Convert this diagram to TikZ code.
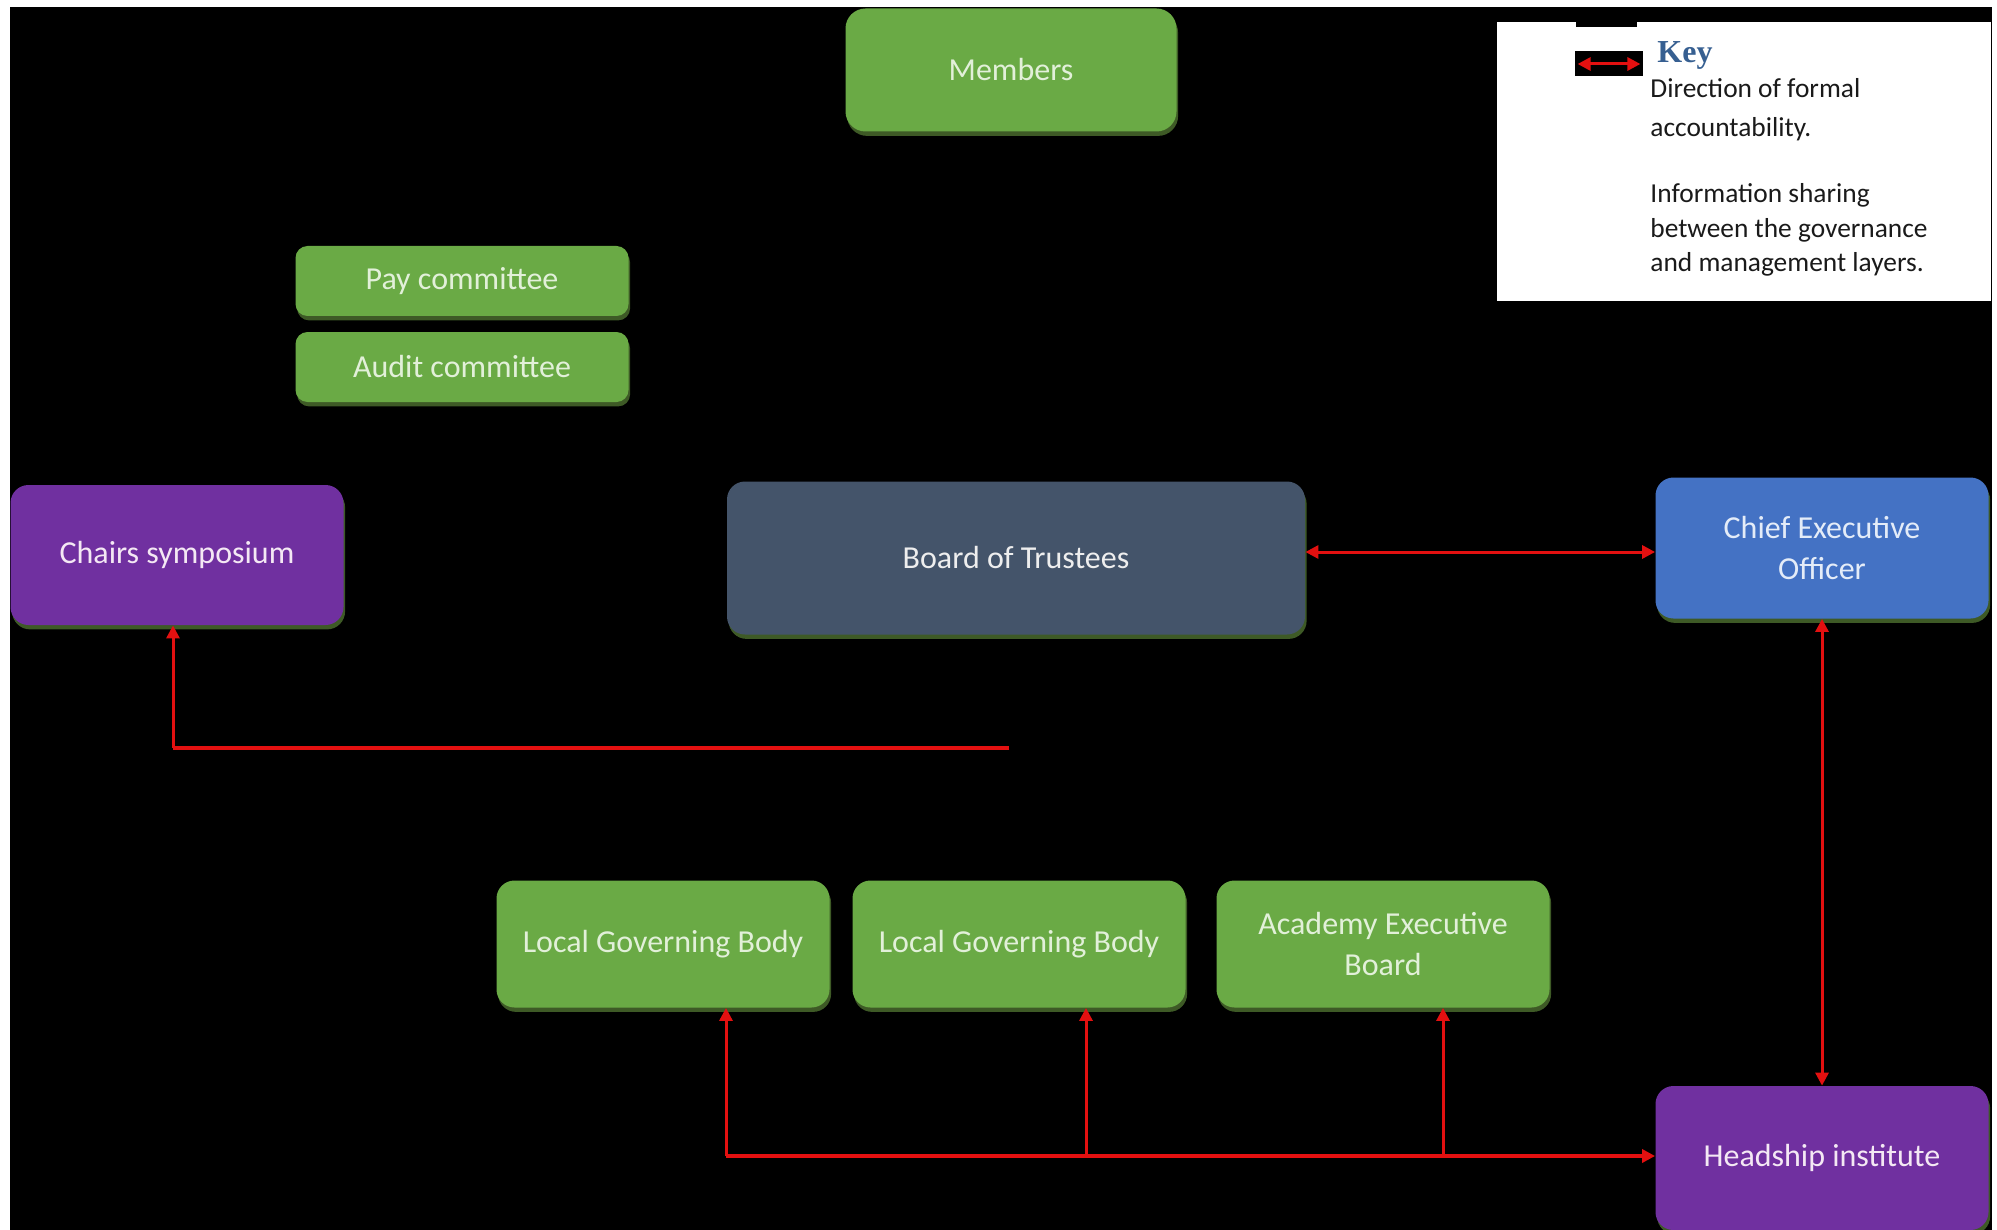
\documentclass[tikz,border=0pt]{standalone}
\usepackage{fontspec}
\setmainfont{Carlito}
\newfontfamily\keyserif{Liberation Serif}
\usetikzlibrary{arrows.meta,shadows}
\definecolor{boxgreen}{HTML}{6AAA45}
\definecolor{boxpurple}{HTML}{7030A0}
\definecolor{boxslate}{HTML}{44546A}
\definecolor{boxblue}{HTML}{4472C4}
\definecolor{shadowgreen}{HTML}{3E5A26}
\definecolor{textgreen}{HTML}{E2F0D9}
\definecolor{textpurple}{HTML}{F4E8F4}
\definecolor{textslate}{HTML}{EEEEEE}
\definecolor{textblue}{HTML}{E4ECF8}
\definecolor{keyblue}{HTML}{365F91}
\definecolor{linered}{HTML}{E31010}
\definecolor{keytext}{HTML}{1A1A1A}
\tikzset{
  redtip/.tip={Triangle[length=6.5pt,width=6.5pt]},
  box/.style={rounded corners=9pt, inner sep=0pt, align=center,
    font=\fontsize{16}{20}\selectfont,
    drop shadow={shadow xshift=0.8pt, shadow yshift=-2.2pt, fill=shadowgreen, opacity=1}},
  greenbox/.style={box, fill=boxgreen, text=textgreen},
  purplebox/.style={box, fill=boxpurple, text=textpurple},
  slatebox/.style={box, fill=boxslate, text=textslate},
  bluebox/.style={box, fill=boxblue, text=textblue},
  widebox/.style={minimum width=166.5pt},
  accline/.style={draw=linered, line width=1.5pt},
  heavyline/.style={draw=linered, line width=2.4pt},
  keyline/.style={anchor=west, inner sep=0pt, text=keytext, font=\fontsize{13.7}{17}\selectfont}
}
\begin{document}
\begin{tikzpicture}[x=0.5pt,y=-0.5pt]
\useasboundingbox (0,0) rectangle (1997,1230);
\fill[white] (0,0) rectangle (1997,1230);
\fill[black] (10,7) rectangle (1992,1230);

% boxes
\node[greenbox, rounded corners=10pt, minimum width=165.5pt, minimum height=61.5pt] (members) at (1011,70) {Members};
\node[greenbox, widebox, rounded corners=6pt, minimum height=35pt] (pay) at (462,281) {Pay committee};
\node[greenbox, widebox, rounded corners=6pt, minimum height=35pt] (audit) at (462,367) {Audit committee};
\node[purplebox, widebox, minimum height=70pt] (chairs) at (177,555) {Chairs symposium};
\node[slatebox, minimum width=289pt, minimum height=76.5pt] (board) at (1016,558) {Board of Trustees};
\node[bluebox, widebox, minimum height=70.5pt] (ceo) at (1822,548) {Chief Executive\\[0.5pt]Officer};
\node[greenbox, widebox, minimum height=63.5pt] (lgb1) at (663,944) {Local Governing Body};
\node[greenbox, widebox, minimum height=63.5pt] (lgb2) at (1019,944) {Local Governing Body};
\node[greenbox, widebox, minimum height=63.5pt] (aeb) at (1383,944) {Academy Executive\\[0.5pt]Board};
\node[purplebox, widebox, minimum height=72pt] (head) at (1822,1158) {Headship institute};

% connectors
\coordinate (arrow) at (1480,552);
\draw[accline, redtip-redtip] (board.east |- arrow) -- (ceo.west |- arrow);
\draw[accline, redtip-redtip] (ceo.south) -- (head.north);

\coordinate (cj) at (1009,748);
\coordinate (cc) at (173,748);
\draw[heavyline] (cj) -- (cc);
\draw[accline, -redtip] (cc) -- (cc |- chairs.south);

\coordinate (b1) at (726,1156);
\coordinate (b2) at (1086,1156);
\coordinate (b3) at (1443,1156);
\draw[heavyline, -redtip] (b1) -- (head.west |- b1);
\draw[accline, -redtip] (b1) -- (b1 |- lgb1.south);
\draw[accline, -redtip] (b2) -- (b2 |- lgb2.south);
\draw[accline, -redtip] (b3) -- (b3 |- aeb.south);

% key
\fill[white] (1497,22) rectangle (1991,301);
\fill[black] (1576,22) rectangle (1637,27);
\node[fill=black, inner sep=0pt, minimum width=34pt, minimum height=12.5pt] (swatch) at (1609,64) {};
\draw[accline, redtip-redtip] ([xshift=1.5pt]swatch.west) -- ([xshift=-1.5pt]swatch.east);
\node[anchor=west, inner sep=0pt, text=keyblue, font=\keyserif\bfseries\fontsize{16}{18}\selectfont] (keytitle) at (1657,55) {Key};
\node[keyline] (k1) at (1650,88) {Direction of formal};
\node[keyline] (k2) at (1650,129) {accountability.};
\node[keyline] (k3) at (1650,195) {Information sharing};
\node[keyline] (k4) at (1650,230) {between the governance};
\node[keyline] (k5) at (1650,264) {and management layers.};
\end{tikzpicture}
\end{document}
